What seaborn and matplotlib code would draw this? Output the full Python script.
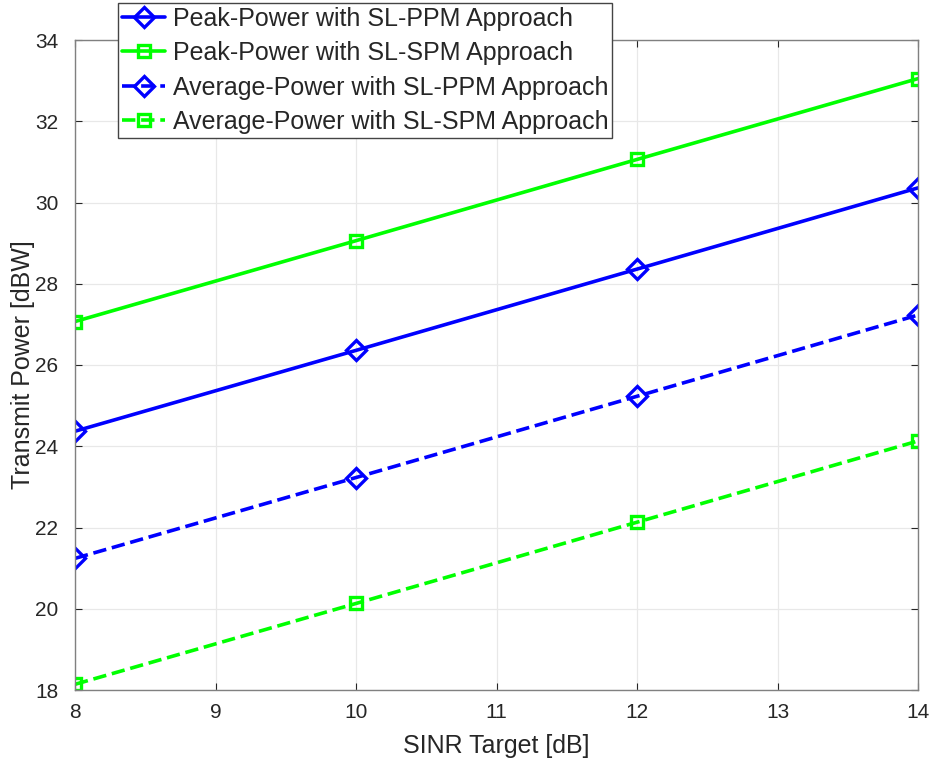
import matplotlib
matplotlib.use("Agg")
import matplotlib.pyplot as plt
import seaborn as sns
import pandas as pd

sinr = [8, 10, 12, 14]
peak_ppm = [24.37, 26.36, 28.36, 30.36]
peak_spm = [27.07, 29.06, 31.06, 33.05]
avg_ppm = [21.24, 23.23, 25.23, 27.23]
avg_spm = [18.14, 20.13, 22.13, 24.13]
labels = ["Peak-Power with SL-PPM Approach",
          "Peak-Power with SL-SPM Approach",
          "Average-Power with SL-PPM Approach",
          "Average-Power with SL-SPM Approach"]

sns.set_theme(style="white")
plt.rcParams['font.family'] = ['Liberation Sans', 'DejaVu Sans']

fig = plt.figure(figsize=(9.34, 7.67), dpi=100)
ax = fig.add_axes([75/934, 77/767, 843/934, 650/767])

series = [
    (peak_ppm, "#0000ff", "-", "D"),
    (peak_spm, "#00ff00", "-", "s"),
    (avg_ppm, "#0000ff", "--", "D"),
    (avg_spm, "#00ff00", "--", "s"),
]
for (vals, c, ls, m), lab in zip(series, labels):
    df = pd.DataFrame({"x": sinr, "y": vals})
    sns.lineplot(data=df, x="x", y="y", ax=ax, color=c, linestyle=ls,
                 marker=m, markersize=9 if m == "s" else 10,
                 markerfacecolor="none", markeredgecolor=c, markeredgewidth=2.4,
                 linewidth=2.6, label=lab)

ax.set_xlim(8, 14)
ax.set_ylim(18, 34)
ax.set_xticks(range(8, 15))
ax.set_yticks(range(18, 35, 2))
ax.grid(True, color="#e8e8e8", linewidth=0.9)
ax.tick_params(direction="in", length=5, labelsize=15, colors="#262626",
               width=0.8, top=True, right=True, bottom=True, left=True)
ax.tick_params(axis='x', pad=9)
ax.tick_params(axis='y', pad=12)
for s in ax.spines.values():
    s.set_color("#808080")
    s.set_linewidth(1.0)
ax.set_xlabel("SINR Target [dB]", fontsize=18, color="#262626", labelpad=9)
ax.set_ylabel("Transmit Power [dBW]", fontsize=18, color="#262626", labelpad=0)

leg = ax.legend(loc="upper left", bbox_to_anchor=(0.051, 1.057), fontsize=18,
                frameon=True, fancybox=False, borderpad=0.15, labelspacing=0.42,
                handlelength=1.75, handletextpad=0.3, borderaxespad=0)
leg.get_frame().set_edgecolor("#444444")
leg.get_frame().set_linewidth(1.0)
leg.get_frame().set_alpha(1)

fig.savefig("out.png", dpi=100)
